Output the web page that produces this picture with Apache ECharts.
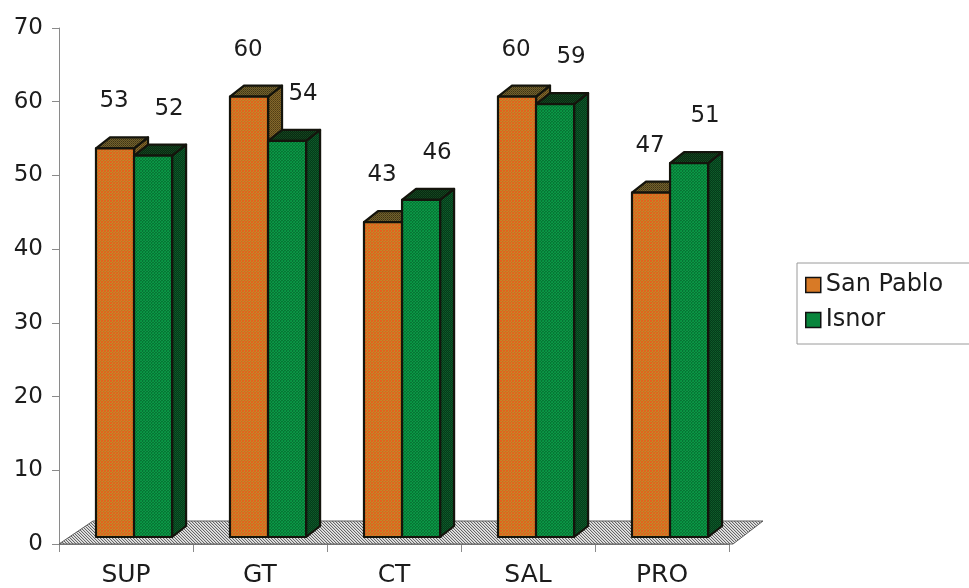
<!DOCTYPE html>
<html>
<head>
<meta charset="utf-8">
<script src="https://cdn.jsdelivr.net/npm/echarts@6/dist/echarts.min.js"></script>
<style>
  html, body { margin: 0; padding: 0; background: #ffffff; }
  #chart { width: 969px; height: 588px; }
</style>
</head>
<body>
<div id="chart"></div>
<script>
// Scores per area for the two schools
const categories = ['SUP', 'GT', 'CT', 'SAL', 'PRO'];
const sanPablo = [53, 60, 43, 60, 47];
const isnor = [52, 54, 46, 59, 51];
const seriesNames = ['San Pablo', 'Isnor'];

const FONT = '"DejaVu Sans", "Liberation Sans", Arial, sans-serif';

// Small tiled canvas used as a dithered fill
function pattern(rows) {
  const c = document.createElement('canvas');
  c.width = rows[0].length;
  c.height = rows.length;
  const ctx = c.getContext('2d');
  rows.forEach((r, y) => r.forEach((col, x) => {
    ctx.fillStyle = col;
    ctx.fillRect(x, y, 1, 1);
  }));
  return { image: c, repeat: 'repeat' };
}

const fills = {
  orangeFront: pattern([
    ['#e4641e', '#c48a2a', '#e0621e'],
    ['#c48a2a', '#dc601e', '#c08428'],
    ['#e0621e', '#c08428', '#e4641e']
  ]),
  orangeTop: pattern([
    ['#4e4420', '#76622a'],
    ['#76622a', '#3a3218']
  ]),
  orangeSide: pattern([
    ['#5e4a1c', '#86682a'],
    ['#86682a', '#4e3c16']
  ]),
  greenFront: pattern([
    ['#0a9444', '#067634', '#0a9444'],
    ['#067634', '#109c4a', '#067634'],
    ['#0a9444', '#067634', '#088a3e']
  ]),
  greenTop: pattern([
    ['#12401c', '#082a12'],
    ['#082a12', '#16481f']
  ]),
  greenSide: pattern([
    ['#0b5426', '#053a1a'],
    ['#053a1a', '#0e5e2a']
  ]),
  floor: pattern([
    ['#666666', '#cccccc', '#e8e8e8'],
    ['#e8e8e8', '#666666', '#cccccc'],
    ['#cccccc', '#e8e8e8', '#666666']
  ])
};

const OUTLINE = '#14140c';
const DX = 14, DY = -11;

// Draws one 3D-looking bar (front, top, side faces) plus its value label
function barRenderer(seriesIdx) {
  const front = seriesIdx === 0 ? fills.orangeFront : fills.greenFront;
  const topF = seriesIdx === 0 ? fills.orangeTop : fills.greenTop;
  const side = seriesIdx === 0 ? fills.orangeSide : fills.greenSide;
  return function (params, api) {
    const ci = api.value(0);
    const v = api.value(1);
    const band = api.size([1, 0])[0];
    const topPt = api.coord([ci, v]);
    const basePt = api.coord([ci, 0]);
    const bw = band * 0.284;
    const pc = basePt[0] + band * 0.06;
    const x0 = seriesIdx === 0 ? pc - bw : pc;
    const x1 = x0 + bw;
    const yT = topPt[1] - 5;
    const yB = basePt[1] - 7;
    const st = (fill) => ({ fill: fill, stroke: OUTLINE, lineWidth: 2.2, lineJoin: 'round' });
    return {
      type: 'group',
      children: [
        { type: 'polygon', shape: { points: [[x1, yT], [x1 + DX, yT + DY], [x1 + DX, yB + DY], [x1, yB]] }, style: st(side) },
        { type: 'polygon', shape: { points: [[x0, yT], [x0 + DX, yT + DY], [x1 + DX, yT + DY], [x1, yT]] }, style: st(topF) },
        { type: 'polygon', shape: { points: [[x0, yT], [x1, yT], [x1, yB], [x0, yB]] }, style: st(front) },
        {
          type: 'text',
          style: {
            x: (x0 + x1) / 2 + (seriesIdx === 0 ? -1 : 16),
            y: topPt[1] - 52,
            text: String(v),
            align: 'center',
            verticalAlign: 'middle',
            font: '23px ' + FONT,
            fill: '#1c1c1c'
          }
        }
      ]
    };
  };
}

// Hatched floor plane under the bars
function floorRenderer(params, api) {
  const cs = params.coordSys;
  const x0 = cs.x, x1 = cs.x + cs.width, yb = cs.y + cs.height;
  return {
    type: 'polygon',
    shape: { points: [[x0, yb], [x1 + 4, yb], [x1 + 34, yb - 23], [x0 + 34, yb - 23]] },
    style: { fill: fills.floor, stroke: '#5e5e5e', lineWidth: 1 }
  };
}

const chart = echarts.init(document.getElementById('chart'), null, { renderer: 'canvas' });

chart.setOption({
  animation: false,
  backgroundColor: '#ffffff',
  grid: { left: 59, right: 240, top: 28, bottom: 43 },
  legend: {
    data: seriesNames,
    orient: 'vertical',
    left: 797,
    top: 263,
    padding: [10, 60, 12, 8],
    itemGap: 11,
    itemWidth: 15,
    itemHeight: 15,
    itemTextGap: 13,
    icon: 'rect',
    borderColor: '#9a9a9a',
    borderWidth: 1,
    itemStyle: { borderColor: '#111', borderWidth: 1.5 },
    textStyle: { fontSize: 24, color: '#1c1c1c', fontFamily: FONT }
  },
  xAxis: {
    type: 'category',
    data: categories,
    boundaryGap: true,
    axisLine: { show: true, lineStyle: { color: '#8a8a8a', width: 1 } },
    axisTick: { show: true, alignWithLabel: false, length: 8, lineStyle: { color: '#8a8a8a' } },
    axisLabel: { margin: 19, fontSize: 25, color: '#1c1c1c', fontFamily: FONT },
    splitLine: { show: false }
  },
  yAxis: {
    type: 'value',
    min: 0,
    max: 70,
    interval: 10,
    axisLine: { show: true, lineStyle: { color: '#8a8a8a', width: 1 } },
    axisTick: { show: true, length: 7, lineStyle: { color: '#8a8a8a' } },
    axisLabel: { margin: 16, fontSize: 23, color: '#1c1c1c', fontFamily: FONT },
    splitLine: { show: false }
  },
  series: [
    {
      type: 'custom',
      name: 'floor',
      z: 1,
      silent: true,
      renderItem: floorRenderer,
      encode: { x: 0, y: 1 },
      data: [[0, 0]]
    },
    {
      type: 'custom',
      name: seriesNames[0],
      z: 3,
      itemStyle: { color: '#d87a26' },
      renderItem: barRenderer(0),
      encode: { x: 0, y: 1 },
      data: sanPablo.map((v, i) => [i, v])
    },
    {
      type: 'custom',
      name: seriesNames[1],
      z: 4,
      itemStyle: { color: '#08853c' },
      renderItem: barRenderer(1),
      encode: { x: 0, y: 1 },
      data: isnor.map((v, i) => [i, v])
    }
  ]
});
</script>
</body>
</html>
